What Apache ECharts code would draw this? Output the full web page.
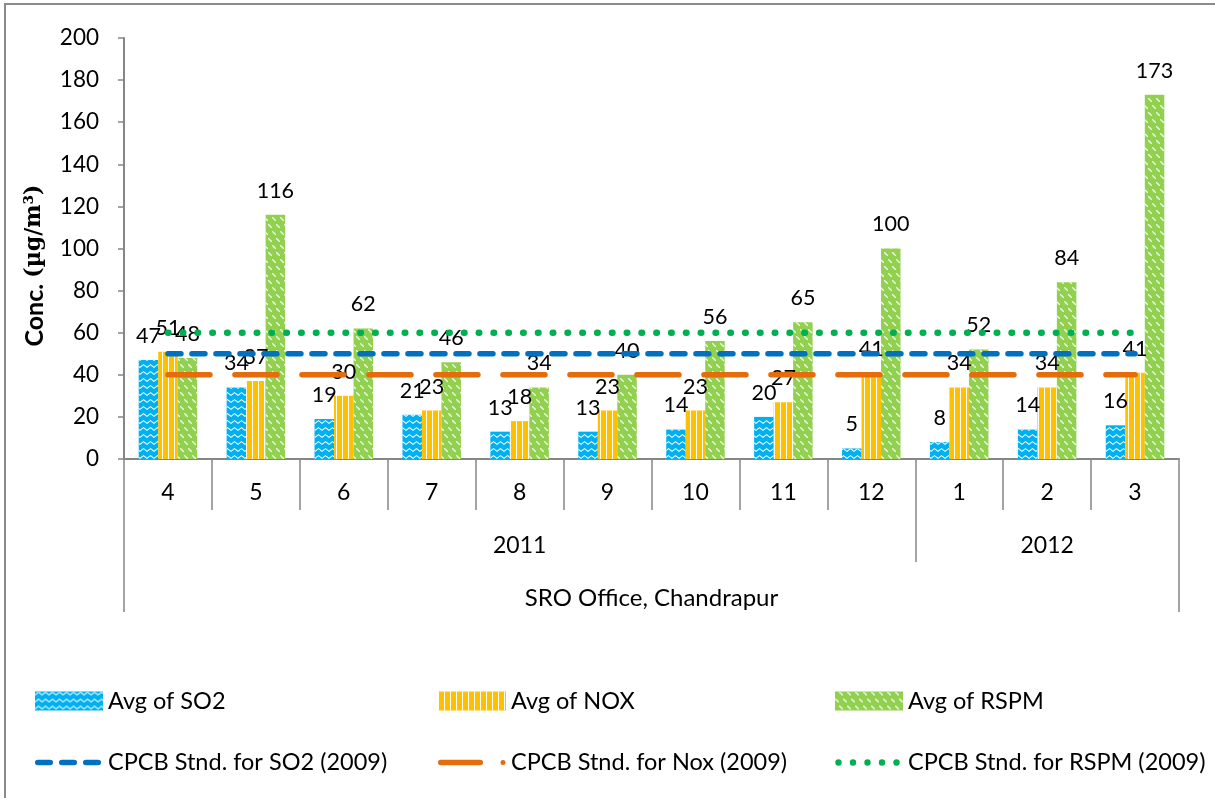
<!DOCTYPE html>
<html>
<head>
<meta charset="utf-8">
<script src="https://cdn.jsdelivr.net/npm/echarts@6/dist/echarts.min.js"></script>
<style>
  html, body { margin: 0; padding: 0; background: #fff; }
  #wrap { position: relative; width: 1215px; height: 798px; }
  #chart { position: absolute; left: 0; top: 0; width: 1215px; height: 798px; }
  #frame { position: absolute; left: 4px; top: 3px; right: -10px; bottom: -10px;
           border-top: 2px solid #8a8a8a; border-left: 2px solid #8a8a8a; pointer-events: none; }
</style>
</head>
<body>
<div id="wrap">
  <div id="chart"></div>
  <div id="frame"></div>
</div>
<script>
// Monthly average concentrations at SRO Office, Chandrapur (Apr 2011 - Mar 2012)
const months = ['4', '5', '6', '7', '8', '9', '10', '11', '12', '1', '2', '3'];
const yearLabels = ['', '', '', '', '2011', '', '', '', '', '', '2012', ''];
const yearStartIndex = [0, 9];
const stationName = ['SRO Office, Chandrapur'];

const so2 = [47, 34, 19, 21, 13, 13, 14, 20, 5, 8, 14, 16];
const nox = [51, 37, 30, 23, 18, 23, 23, 27, 41, 34, 34, 41];
const rspm = [48, 116, 62, 46, 34, 40, 56, 65, 100, 52, 84, 173];

// CPCB (2009) annual standards
const stdSO2 = 50;
const stdNOx = 40;
const stdRSPM = 60;

const seriesNames = ['Avg of SO2', 'Avg of NOX', 'Avg of RSPM'];
const stdNames = ['CPCB Stnd. for SO2 (2009)', 'CPCB Stnd. for Nox (2009)', 'CPCB Stnd. for RSPM (2009)'];

const FONT = 'Lato';
const AXIS_GREY = '#868686';

// ---- legend glyphs for the standard lines (68 x 19 box) ----
const ICON_W = 68, ICON_H = 19, MID = ICON_H / 2;
function capsule(a, b, h) {
  const r = h / 2, t = MID - r, bt = MID + r;
  return `M${a + r},${t} L${b - r},${t} A${r},${r} 0 0 1 ${b - r},${bt} L${a + r},${bt} A${r},${r} 0 0 1 ${a + r},${t} Z`;
}
function dot(cx, r) {
  return `M${cx - r},${MID} A${r},${r} 0 1 1 ${cx + r},${MID} A${r},${r} 0 1 1 ${cx - r},${MID} Z`;
}
const frameBox = `M0,0 M${ICON_W},${ICON_H} `;
const iconSO2Std = 'path://' + frameBox + [capsule(0, 18, 5.5), capsule(24, 42, 5.5), capsule(48, 66, 5.5)].join(' ');
const iconNOxStd = 'path://' + frameBox + [capsule(0, 45, 5.5), dot(65, 2.5)].join(' ');
const iconRSPMStd = 'path://' + frameBox + [3.5, 18, 32.5, 47, 61.5].map(c => dot(c, 3.2)).join(' ');

const chart = echarts.init(document.getElementById('chart'), null, { renderer: 'canvas', width: 1215, height: 798 });

const barLabel = {
  show: true,
  position: 'top',
  distance: 13,
  fontSize: 21.5,
  fontFamily: FONT,
  color: '#000'
};

function flat(v) { return months.map(() => v); }

const legendBase = {
  orient: 'vertical',
  top: 684,
  itemWidth: ICON_W,
  itemHeight: ICON_H,
  itemGap: 37.5,
  symbolKeepAspect: false,
  textStyle: { fontSize: 23.5, fontFamily: FONT, color: '#000' }
};

const option = {
  backgroundColor: '#fff',
  animation: false,
  textStyle: { fontFamily: FONT, color: '#000' },
  grid: { left: 124, right: 36, top: 38, bottom: 339, containLabel: false },
  xAxis: [
    {
      type: 'category',
      position: 'bottom',
      data: months,
      axisLine: { show: true, lineStyle: { color: AXIS_GREY, width: 2 } },
      axisTick: { show: true, interval: 0, length: 51, lineStyle: { color: AXIS_GREY, width: 1.5 } },
      axisLabel: { interval: 0, margin: 22, fontSize: 23, color: '#000', fontFamily: FONT },
      splitLine: { show: false }
    },
    {
      type: 'category',
      position: 'bottom',
      offset: 0,
      data: yearLabels,
      axisLine: { show: false },
      axisTick: {
        show: true,
        interval: (idx) => yearStartIndex.indexOf(idx) >= 0,
        length: 103,
        lineStyle: { color: AXIS_GREY, width: 1.5 }
      },
      axisLabel: { interval: 0, margin: 75, fontSize: 23, color: '#000', fontFamily: FONT },
      splitLine: { show: false }
    },
    {
      type: 'category',
      position: 'bottom',
      offset: 0,
      data: stationName,
      axisLine: { show: false },
      axisTick: { show: true, length: 153, lineStyle: { color: AXIS_GREY, width: 1.5 } },
      axisLabel: { interval: 0, margin: 127, fontSize: 24, color: '#000', fontFamily: FONT },
      splitLine: { show: false }
    }
  ],
  yAxis: {
    type: 'value',
    min: 0,
    max: 200,
    interval: 20,
    name: '{a|Conc. }{b|(µg/m³)}',
    nameLocation: 'middle',
    nameGap: 77,
    nameRotate: 90,
    nameTextStyle: {
      padding: [0, 34, 0, 0],
      rich: {
        a: { fontFamily: FONT, fontWeight: 'bold', fontSize: 25, color: '#000' },
        b: { fontFamily: 'DejaVu Serif', fontWeight: 'bold', fontSize: 22, color: '#000' }
      }
    },
    axisLine: { show: true, lineStyle: { color: AXIS_GREY, width: 2 } },
    axisTick: { show: true, length: 6, lineStyle: { color: AXIS_GREY, width: 1.5 } },
    axisLabel: { margin: 25, fontSize: 22.5, color: '#000', fontFamily: FONT },
    splitLine: { show: false }
  },
  legend: [
    Object.assign({}, legendBase, {
      left: 30,
      data: [
        { name: seriesNames[0], icon: 'rect' },
        { name: stdNames[0], icon: iconSO2Std, itemStyle: { borderWidth: 0 } }
      ]
    }),
    Object.assign({}, legendBase, {
      left: 433,
      data: [
        { name: seriesNames[1], icon: 'rect' },
        { name: stdNames[1], icon: iconNOxStd, itemStyle: { borderWidth: 0 } }
      ]
    }),
    Object.assign({}, legendBase, {
      left: 830,
      data: [
        { name: seriesNames[2], icon: 'rect' },
        { name: stdNames[2], icon: iconRSPMStd, itemStyle: { borderWidth: 0 } }
      ]
    })
  ],
  series: [
    {
      name: seriesNames[0],
      type: 'bar',
      data: so2,
      barWidth: 19.5,
      barGap: '0%',
      label: barLabel,
      itemStyle: {
        color: '#00B0F0',
        decal: {
          symbol: 'path://M0,3 L3.5,0 L7,3 L7,4.4 L3.5,1.4 L0,4.4 Z',
          symbolSize: 1,
          symbolKeepAspect: false,
          color: '#ffffff',
          dashArrayX: [[7, 0]],
          dashArrayY: [4, 3]
        }
      },
      z: 2
    },
    {
      name: seriesNames[1],
      type: 'bar',
      data: nox,
      barWidth: 19.5,
      barGap: '0%',
      label: barLabel,
      itemStyle: {
        color: '#FFC000',
        decal: {
          symbol: 'rect',
          symbolSize: 1,
          symbolKeepAspect: false,
          color: '#ffffff',
          dashArrayX: [[1, 5]],
          dashArrayY: [10, 0]
        }
      },
      z: 2
    },
    {
      name: seriesNames[2],
      type: 'bar',
      data: rspm,
      barWidth: 19.5,
      barGap: '0%',
      label: barLabel,
      itemStyle: {
        color: '#92D050',
        decal: {
          symbol: 'path://M0,0 L1.2,0 L5,3.8 L5,5 L3.8,5 L0,1.2 Z',
          symbolSize: 1,
          symbolKeepAspect: false,
          color: 'rgba(255,255,255,0.85)',
          dashArrayX: [[4, 4], [0, 4, 4, 0]],
          dashArrayY: [4, 3]
        }
      },
      z: 2
    },
    {
      name: stdNames[0],
      type: 'line',
      data: flat(stdSO2),
      symbol: 'none',
      lineStyle: { color: '#0070C0', width: 5.5, type: [13, 11], cap: 'round' },
      itemStyle: { color: '#0070C0' },
      z: 5
    },
    {
      name: stdNames[1],
      type: 'line',
      data: flat(stdNOx),
      symbol: 'none',
      lineStyle: { color: '#E46C0A', width: 5.5, type: [42, 25], cap: 'round' },
      itemStyle: { color: '#E46C0A' },
      z: 5
    },
    {
      name: stdNames[2],
      type: 'line',
      data: flat(stdRSPM),
      symbol: 'none',
      lineStyle: { color: '#00B050', width: 6.5, type: [0.5, 14.3], cap: 'round' },
      itemStyle: { color: '#00B050' },
      z: 5
    }
  ]
};

chart.setOption(option);
</script>
</body>
</html>
